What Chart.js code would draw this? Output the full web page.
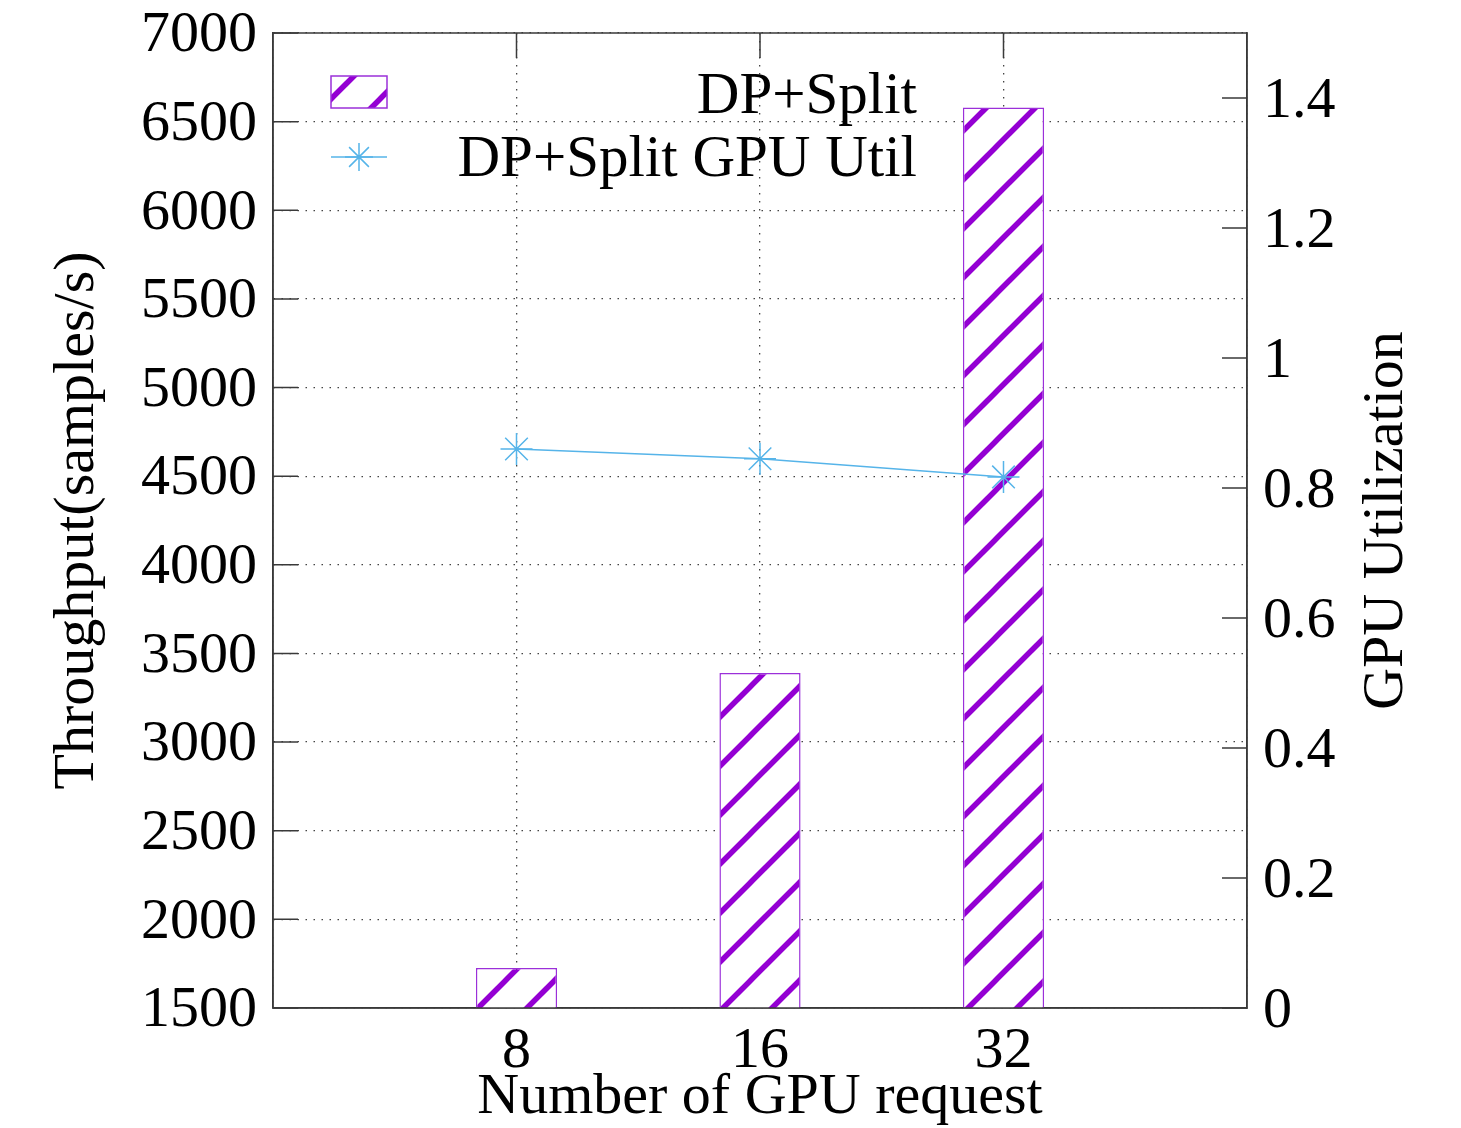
<!DOCTYPE html>
<html lang="en">
<head>
    <meta charset="UTF-8">
    <title>DP+Split Throughput</title>
    <script src="https://cdn.jsdelivr.net/npm/chart.js"></script>
    <style>
        html, body { margin: 0; padding: 0; background: #fff; }
        .chart-wrapper { width: 1461px; height: 1128px; }
    </style>
</head>
<body>
    <div class="chart-wrapper">
        <canvas id="chart"></canvas>
    </div>

    <script>
        // data
        const gpuRequests = ['8', '16', '32'];
        const throughput = [1725, 3390, 6580];
        const gpuUtil = [0.860, 0.845, 0.817];
        const leftTicks = [1500, 2000, 2500, 3000, 3500, 4000, 4500, 5000, 5500, 6000, 6500, 7000];
        const rightTicks = [0, 0.2, 0.4, 0.6, 0.8, 1, 1.2, 1.4];

        const FONT = 'Liberation Serif, Times New Roman, serif';
        const PURPLE = '#9400d3';
        const BLUE = '#56b4e9';
        const AXIS = '#3a3a3a';

        // one empty slot on each side of the groups
        const labels = ['', ...gpuRequests, ''];
        const pad = arr => [null, ...arr, null];

        // diagonal hatch fill, white background so the grid stays behind it
        function makeHatch(ctx, phase) {
            const size = 49;
            const tile = document.createElement('canvas');
            tile.width = size;
            tile.height = size;
            const t = tile.getContext('2d');
            t.fillStyle = '#fff';
            t.fillRect(0, 0, size, size);
            t.strokeStyle = PURPLE;
            t.lineWidth = 5.5;
            t.lineCap = 'butt';
            [-size, 0, size].forEach(dx => {
                t.beginPath();
                t.moveTo(dx - 2, size + 2);
                t.lineTo(dx + size + 2, -2);
                t.stroke();
            });
            const p = ctx.createPattern(tile, 'repeat');
            p.setTransform(new DOMMatrix().translate(phase, 0));
            return p;
        }

        const canvas = document.getElementById('chart');
        const ctx = canvas.getContext('2d');
        const hatch = makeHatch(ctx, 16);
        const keyHatch = makeHatch(ctx, 38);

        function drawStar(c, x, y, r) {
            const d = r * Math.SQRT1_2;
            c.beginPath();
            c.moveTo(x - r, y); c.lineTo(x + r, y);
            c.moveTo(x, y - r); c.lineTo(x, y + r);
            c.moveTo(x - d, y - d); c.lineTo(x + d, y + d);
            c.moveTo(x - d, y + d); c.lineTo(x + d, y - d);
            c.stroke();
        }

        // fixed axis boxes so the plot frame sits at 273..1247 x 33..1008
        const fixBox = (w, h) => s => {
            if (w) s.width = w;
            if (h) s.height = h;
            s.paddingTop = 0;
            s.paddingBottom = 0;
            s.paddingLeft = 0;
            s.paddingRight = 0;
        };

        const gnuplotFrame = {
            id: 'gnuplotFrame',
            // inward tick marks, under the bars
            beforeDatasetsDraw(chart) {
                const c = chart.ctx;
                const a = chart.chartArea;
                const sx = chart.scales.x, sy = chart.scales.y, sy2 = chart.scales.y2;
                const len = 25;
                c.save();
                c.strokeStyle = AXIS;
                c.lineWidth = 1.5;
                c.beginPath();
                leftTicks.forEach(v => {
                    const y = sy.getPixelForValue(v);
                    c.moveTo(a.left, y); c.lineTo(a.left + len, y);
                });
                rightTicks.forEach(v => {
                    const y = sy2.getPixelForValue(v);
                    c.moveTo(a.right, y); c.lineTo(a.right - len, y);
                });
                gpuRequests.forEach((g, i) => {
                    const x = sx.getPixelForValue(i + 1);
                    c.moveTo(x, a.top); c.lineTo(x, a.top + len);
                    c.moveTo(x, a.bottom); c.lineTo(x, a.bottom - len);
                });
                c.stroke();
                c.restore();
            },
            afterDraw(chart) {
                const c = chart.ctx;
                const a = chart.chartArea;
                c.save();
                // frame
                c.strokeStyle = AXIS;
                c.lineWidth = 1.5;
                c.strokeRect(a.left, a.top, a.right - a.left, a.bottom - a.top);

                // right axis title, reading bottom to top
                c.fillStyle = '#000';
                c.font = '58px ' + FONT;
                c.textAlign = 'center';
                c.textBaseline = 'middle';
                c.translate(1387, (a.top + a.bottom) / 2);
                c.rotate(-Math.PI / 2);
                c.fillText('GPU Utilization', 0, 0);
                c.restore();

                // key
                c.save();
                c.fillStyle = keyHatch;
                c.fillRect(331, 76, 56, 32);
                c.strokeStyle = '#9b30d9';
                c.lineWidth = 1.5;
                c.strokeRect(331, 76, 56, 32);

                c.strokeStyle = BLUE;
                c.lineWidth = 1.5;
                c.beginPath();
                c.moveTo(331, 157); c.lineTo(387, 157);
                c.stroke();
                drawStar(c, 359, 157, 14);

                c.fillStyle = '#000';
                c.font = '59px ' + FONT;
                c.textAlign = 'right';
                c.textBaseline = 'middle';
                c.fillText('DP+Split', 917, 97);
                c.fillText('DP+Split GPU Util', 917, 160);
                c.restore();
            }
        };

        new Chart(canvas, {
            data: {
                labels: labels,
                datasets: [{
                    type: 'bar',
                    label: 'DP+Split',
                    data: pad(throughput),
                    yAxisID: 'y',
                    backgroundColor: hatch,
                    borderColor: '#9b30d9',
                    borderWidth: 1.5,
                    borderSkipped: 'bottom',
                    categoryPercentage: 1 / 3,
                    barPercentage: 1,
                    order: 2
                }, {
                    type: 'line',
                    label: 'DP+Split GPU Util',
                    data: pad(gpuUtil),
                    yAxisID: 'y2',
                    borderColor: BLUE,
                    backgroundColor: BLUE,
                    borderWidth: 1.5,
                    pointStyle: 'star',
                    pointRadius: 16,
                    pointBorderWidth: 1.5,
                    pointBorderColor: BLUE,
                    tension: 0,
                    order: 1
                }]
            },
            options: {
                responsive: true,
                maintainAspectRatio: false,
                animation: false,
                layout: { padding: { top: 33, left: 0, right: 0, bottom: 0 } },
                plugins: {
                    legend: { display: false },
                    tooltip: { enabled: false }
                },
                scales: {
                    x: {
                        type: 'category',
                        offset: false,
                        afterFit: fixBox(0, 120),
                        grid: { color: '#444', lineWidth: 1.3, drawTicks: false, offset: false },
                        border: { color: AXIS, width: 1.5, dash: [1.5, 6.5] },
                        ticks: {
                            color: '#000',
                            padding: 15,
                            maxRotation: 0,
                            autoSkip: false,
                            font: { family: FONT, size: 58, lineHeight: 1 }
                        },
                        title: {
                            display: true,
                            text: 'Number of GPU request',
                            color: '#000',
                            padding: { top: 0, bottom: 1 },
                            font: { family: FONT, size: 58, lineHeight: 1 }
                        }
                    },
                    y: {
                        position: 'left',
                        min: 1500,
                        max: 7000,
                        afterFit: fixBox(273, 0),
                        afterBuildTicks: s => { s.ticks = leftTicks.map(v => ({ value: v })); },
                        grid: { color: '#444', lineWidth: 1.3, drawTicks: false },
                        border: { color: AXIS, width: 1.5, dash: [1.5, 6.5] },
                        ticks: {
                            color: '#000',
                            padding: 16,
                            labelOffset: 3,
                            callback: v => String(v),
                            font: { family: FONT, size: 58, lineHeight: 1 }
                        },
                        title: {
                            display: true,
                            text: 'Throughput(samples/s)',
                            color: '#000',
                            padding: { top: 49, bottom: 0 },
                            font: { family: FONT, size: 58, lineHeight: 1 }
                        }
                    },
                    y2: {
                        position: 'right',
                        min: 0,
                        max: 1.5,
                        afterFit: fixBox(214, 0),
                        afterBuildTicks: s => { s.ticks = rightTicks.map(v => ({ value: v })); },
                        grid: { drawOnChartArea: false, drawTicks: false },
                        border: { color: AXIS, width: 1.5 },
                        ticks: {
                            color: '#000',
                            padding: 16,
                            labelOffset: 4,
                            callback: v => String(v),
                            font: { family: FONT, size: 58, lineHeight: 1 }
                        }
                    }
                }
            },
            plugins: [gnuplotFrame]
        });
    </script>
</body>
</html>
